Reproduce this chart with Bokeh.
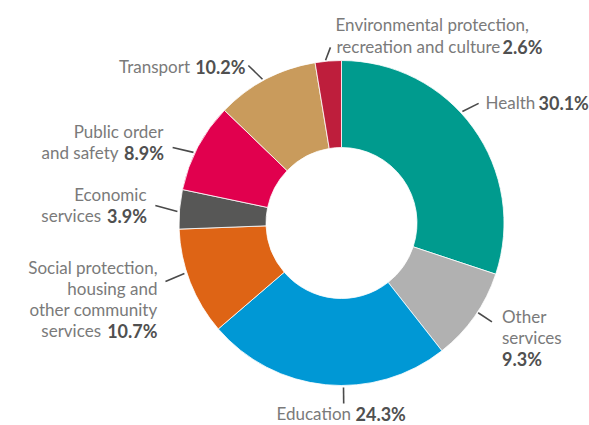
import math
import numpy as np
from bokeh.plotting import figure
from bokeh.models import Range1d
from bokeh.core.properties import value
from bokeh.embed import file_html
from bokeh.resources import INLINE

# ---------------- data ----------------
categories = [
    "Health",
    "Other services",
    "Education",
    "Social protection, housing and other community services",
    "Economic services",
    "Public order and safety",
    "Transport",
    "Environmental protection, recreation and culture",
]
shares = [30.1, 9.3, 24.3, 10.7, 3.9, 8.9, 10.2, 2.6]
share_labels = ["30.1%", "9.3%", "24.3%", "10.7%", "3.9%", "8.9%", "10.2%", "2.6%"]
colors = ["#009B8E", "#B1B1B1", "#0098D5", "#DE6415", "#575756",
          "#E1004E", "#C99B5C", "#BE1E3C"]

# ---------------- layout (pixel coordinates of the picture) ----------------
CX, CY = 341.0, 222.5
R_IN, R_OUT = 75.5, 162.5
FONT = value("Lato")
FSIZE = "17px"
BOLD_FSIZE = "18px"
TXT_COL = "#7a7a7a"
BOLD_COL = "#505050"

# leader lines: (angle1 deg clockwise from top, r1, angle2, r2)
leaders = [
    (47.3, 164.5, 48.9, 182.0),
    (123.3, 163.5, 123.3, 180.0),
    (179.3, 164.5, 179.3, 180.5),
    (-107.8, 165.0, -108.4, 185.5),
    (-86.0, 164.5, -84.6, 187.0),
    (-64.5, 164.0, -65.9, 185.0),
    (-28.8, 164.0, -30.6, 183.0),
    (-5.6, 163.5, -3.6, 176.0),
]

# text segments: (category index, text or None for share label, x, baseline y, align)
segments = [
    (0, "Health", 485, 102, "left"), (0, None, 538, 102, "left"),
    (1, "Other", 501.5, 316, "left"), (1, "services", 501.5, 337, "left"),
    (1, None, 501.5, 358, "left"),
    (2, "Education", 276, 413, "left"), (2, None, 355, 413, "left"),
    (3, "Social protection,", 157, 267, "right"), (3, "housing and", 157, 288, "right"),
    (3, "other community", 157, 309, "right"), (3, "services", 100.5, 330, "right"),
    (3, None, 157, 330, "right"),
    (4, "Economic", 146, 194, "right"), (4, "services", 100.5, 215, "right"),
    (4, None, 146.5, 215, "right"),
    (5, "Public order", 163, 131, "right"), (5, "and safety", 118, 152, "right"),
    (5, None, 163.5, 152, "right"),
    (6, "Transport", 189.5, 66, "right"), (6, None, 245, 66, "right"),
    (7, "Environmental protection,", 335, 24, "left"),
    (7, "recreation and culture", 336, 46, "left"), (7, None, 502, 46, "left"),
]

W, H = 589, 425
p = figure(width=W, height=H, output_backend="svg", toolbar_location=None,
           x_range=Range1d(0, W), y_range=Range1d(-H, 0),
           min_border=0)
p.axis.visible = False
p.grid.visible = False
p.outline_line_color = None
p.background_fill_color = "white"
p.border_fill_color = "white"

cy = -CY
total = float(sum(shares))
cum = np.concatenate([[0.0], np.cumsum(shares)]) / total
start = [math.pi / 2 - 2 * math.pi * c for c in cum[:-1]]
end = [math.pi / 2 - 2 * math.pi * c for c in cum[1:]]

p.annular_wedge(x=CX, y=cy, inner_radius=R_IN, outer_radius=R_OUT,
                start_angle=start, end_angle=end, direction="clock",
                fill_color=colors, line_color="white", line_width=0.8)

# leaders
x0, y0, x1, y1 = [], [], [], []
for a1, r1, a2, r2 in leaders:
    t1, t2 = math.radians(a1), math.radians(a2)
    x0.append(CX + r1 * math.sin(t1)); y0.append(cy + r1 * math.cos(t1))
    x1.append(CX + r2 * math.sin(t2)); y1.append(cy + r2 * math.cos(t2))
p.segment(x0=x0, y0=y0, x1=x1, y1=y1, line_color="#4a4a4a", line_width=1.6)

# texts
groups = {}
for idx, txt, x, y, align in segments:
    bold = txt is None
    s = share_labels[idx] if bold else txt
    key = (align, bold)
    g = groups.setdefault(key, {"x": [], "y": [], "text": []})
    g["x"].append(x); g["y"].append(-y); g["text"].append(s)

for (align, bold), g in groups.items():
    p.text(x=g["x"], y=g["y"], text=g["text"], text_align=align,
           text_baseline="alphabetic", text_font=FONT,
           text_font_size=BOLD_FSIZE if bold else FSIZE,
           text_font_style="bold" if bold else "normal",
           text_color=BOLD_COL if bold else TXT_COL)

open("out.html", "w").write(file_html(p, INLINE))
